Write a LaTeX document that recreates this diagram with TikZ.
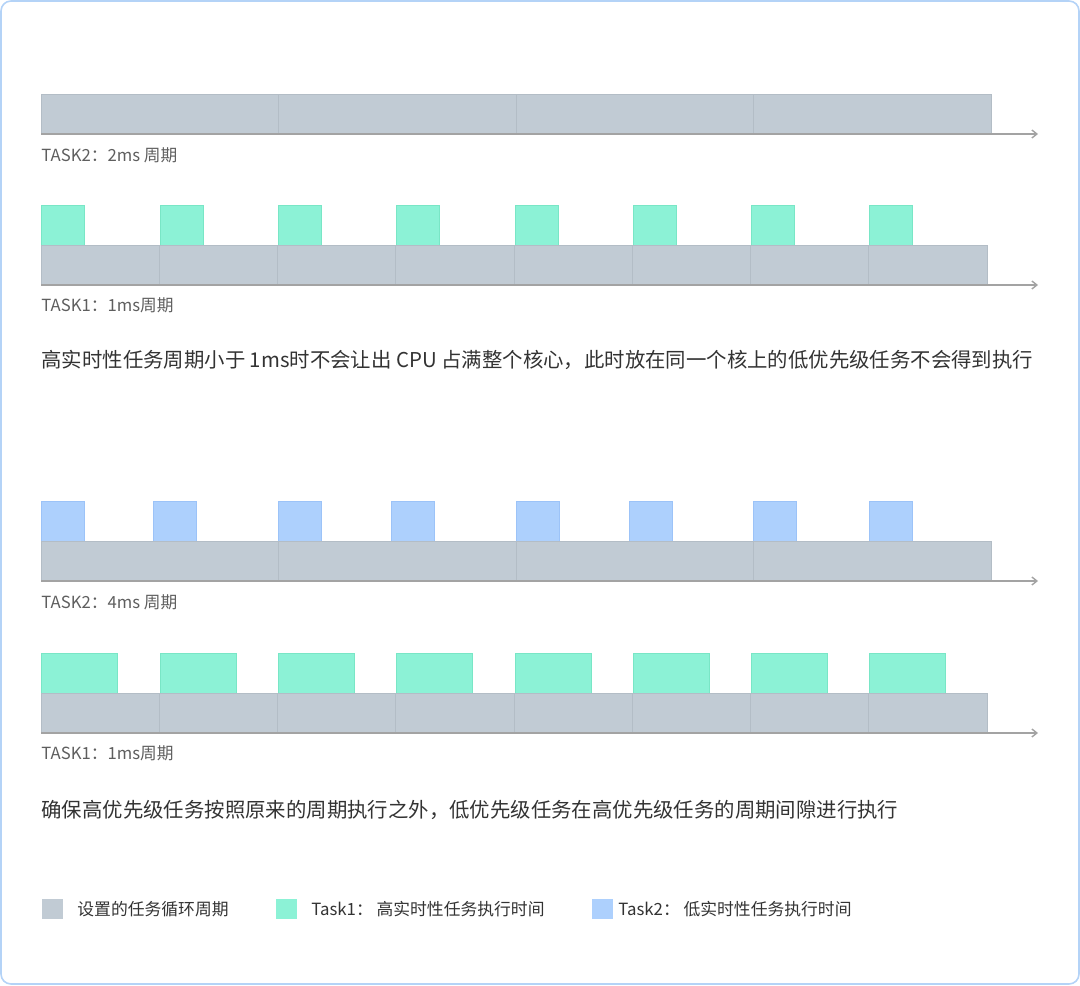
\documentclass[tikz,border=0pt]{standalone}
\usepackage{fontspec}
\setmainfont{Noto Sans CJK SC}
\usetikzlibrary{positioning,arrows.meta}

\definecolor{slotgray}{HTML}{C1CBD4}
\definecolor{slotline}{HTML}{B3BDC6}
\definecolor{higreen}{HTML}{8CF2D6}
\definecolor{higreenline}{HTML}{79E6C6}
\definecolor{loblue}{HTML}{ADD0FD}
\definecolor{loblueline}{HTML}{9CC3F8}
\definecolor{axisgray}{HTML}{A3A3A3}
\definecolor{framebl}{HTML}{B4D3F7}
\definecolor{labelgray}{HTML}{5E5E5E}
\definecolor{darktext}{HTML}{333333}

\begin{document}
\begin{tikzpicture}[x=0.5pt,y=-0.5pt,
  slot/.style={fill=slotgray,draw=slotline,line width=0.5pt},
  hitask/.style={fill=higreen,draw=higreenline,line width=0.5pt},
  lotask/.style={fill=loblue,draw=loblueline,line width=0.5pt},
  timeaxis/.style={draw=axisgray,line width=0.7pt,-{Straight Barb[length=2.5pt,width=4pt]}},
  caption/.style={anchor=base west,inner sep=0pt,text=labelgray,font=\fontsize{8.35}{10}\selectfont},
  remark/.style={anchor=base west,inner sep=0pt,text=darktext,font=\fontsize{10.2}{12}\selectfont},
  legendtext/.style={anchor=base west,inner sep=0pt,text=darktext,font=\fontsize{8.4}{10}\selectfont}]

  \path[use as bounding box] (0,0) rectangle (1080,985);
  \draw[draw=framebl,line width=0.8pt,rounded corners=5pt] (1,1) rectangle (1079,984);

  % TASK2: 2ms period
  \foreach \i in {0,...,3}
    \draw[slot] ({41+237.5*\i},94) rectangle ++(237.5,40);
  \coordinate (axisA1) at (41,134);
  \coordinate (axisA2) at (1038,134);
  \draw[timeaxis] (axisA1) -- (axisA2);
  \node[caption] (capA) at (41,161) {TASK2：2ms 周期};

  % TASK1: 1ms period
  \foreach \x in {41,160,278,396,515,633,751,869}
    \draw[hitask] (\x,205) rectangle ++(43,40);
  \foreach \i in {0,...,7}
    \draw[slot] ({41+118.25*\i},245) rectangle ++(118.25,40);
  \coordinate (axisB1) at (41,285);
  \coordinate (axisB2) at (1038,285);
  \draw[timeaxis] (axisB1) -- (axisB2);
  \node[caption] (capB) at (41,311) {TASK1：1ms周期};

  \node[remark] (noteA) at (41,367)
    {高实时性任务周期小于 1ms时不会让出 CPU 占满整个核心，此时放在同一个核上的低优先级任务不会得到执行};

  % TASK2: 4ms period
  \foreach \x in {41,153,278,391,516,629,753,869}
    \draw[lotask] (\x,501) rectangle ++(43,40);
  \foreach \i in {0,...,3}
    \draw[slot] ({41+237.5*\i},541) rectangle ++(237.5,40);
  \coordinate (axisC1) at (41,581);
  \coordinate (axisC2) at (1038,581);
  \draw[timeaxis] (axisC1) -- (axisC2);
  \node[caption] (capC) at (41,608) {TASK2：4ms 周期};

  % TASK1: 1ms period, longer runs
  \foreach \x in {41,160,278,396,515,633,751,869}
    \draw[hitask] (\x,653) rectangle ++(76,40);
  \foreach \i in {0,...,7}
    \draw[slot] ({41+118.25*\i},693) rectangle ++(118.25,40);
  \coordinate (axisD1) at (41,733);
  \coordinate (axisD2) at (1038,733);
  \draw[timeaxis] (axisD1) -- (axisD2);
  \node[caption] (capD) at (41,759) {TASK1：1ms周期};

  \node[remark] (noteB) at (41,817)
    {确保高优先级任务按照原来的周期执行之外，低优先级任务在高优先级任务的周期间隙进行执行};

  % legend
  \draw[fill=slotgray,draw=none] (42,899) rectangle ++(21,20);
  \node[legendtext] (legA) at (77,915) {设置的任务循环周期};
  \draw[fill=higreen,draw=none] (276,899) rectangle ++(21,20);
  \node[legendtext] (legB) at (311,915) {Task1：\ 高实时性任务执行时间};
  \draw[fill=loblue,draw=none] (592,899) rectangle ++(21,20);
  \node[legendtext] (legC) at (618,915) {Task2：\ 低实时性任务执行时间};
\end{tikzpicture}
\end{document}
